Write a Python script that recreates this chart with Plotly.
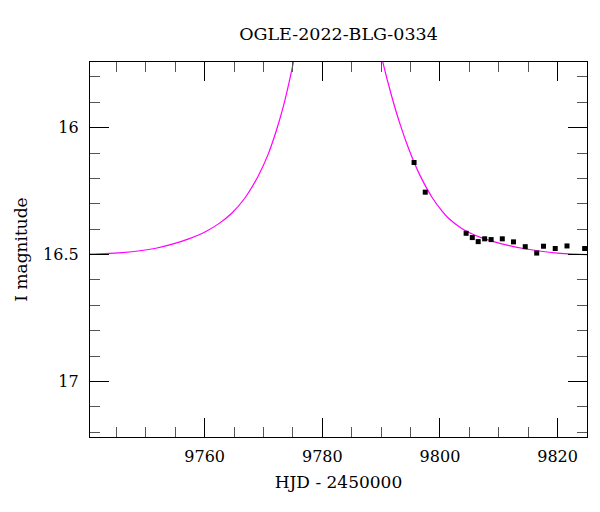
import plotly.graph_objects as go

# Model curve (two branches; the peak is off the top of the plot)
model_left_hjd = [9740.5, 9743.0, 9746.0, 9749.0, 9751.7, 9754.5, 9757.4, 9760.2, 9762.4, 9764.6,
                  9766.9, 9769.1, 9770.8, 9772.2, 9773.35, 9774.3, 9775.05, 9775.5]
model_left_mag = [16.498, 16.496, 16.492, 16.485, 16.475, 16.459, 16.437, 16.409, 16.378, 16.337,
                  16.275, 16.190, 16.104, 16.010, 15.918, 15.826, 15.745, 15.695]
model_right_hjd = [9789.85, 9790.25, 9791.7, 9793.2, 9794.75, 9796.44, 9798.7, 9800.3, 9801.5,
                   9803.7, 9805.4, 9807.1, 9809.3, 9811.6, 9814.4, 9817.2, 9820.0, 9822.9, 9825.0]
model_right_mag = [15.695, 15.738, 15.868, 15.985, 16.087, 16.180, 16.276, 16.327, 16.358,
                   16.397, 16.418, 16.434, 16.450, 16.464, 16.477, 16.487, 16.494, 16.498, 16.500]

# Photometric data points
obs_hjd = [9795.6, 9797.5, 9804.45, 9805.5, 9806.5, 9807.6, 9808.7, 9810.6, 9812.5, 9814.5, 9816.45, 9817.6, 9819.6, 9821.6, 9824.6]
obs_mag = [16.137, 16.254, 16.416, 16.433, 16.449, 16.438, 16.441, 16.438, 16.450, 16.469, 16.494, 16.467, 16.476, 16.466, 16.476]
obs_err = [0.006] * len(obs_hjd)

title_text = "OGLE-2022-BLG-0334"
x_title = "HJD - 2450000"
y_title = "I magnitude"

FONT = "DejaVu Serif"

fig = go.Figure()
fig.add_trace(go.Scatter(
    x=model_left_hjd + [None] + model_right_hjd,
    y=model_left_mag + [None] + model_right_mag,
    mode="lines", line=dict(color="#ff00ff", width=1.2, shape="spline", smoothing=1.0),
    connectgaps=False, hoverinfo="skip", showlegend=False))
fig.add_trace(go.Scatter(
    x=obs_hjd, y=obs_mag, mode="markers",
    marker=dict(symbol="square", size=5, color="black"),
    error_y=dict(type="data", array=obs_err, color="black", thickness=1, width=1.5),
    showlegend=False))

axis_common = dict(
    showgrid=False, zeroline=False, showline=True, linecolor="black", linewidth=1.3,
    mirror="allticks", ticks="inside", ticklen=19, tickwidth=1.2, tickcolor="black",
    tickfont=dict(family=FONT, size=16, color="black"),
)

fig.update_xaxes(
    range=[9740.5, 9825.0], dtick=20, tick0=9760, tickformat="d",
    minor=dict(dtick=5, tick0=9760, ticks="inside", ticklen=10, tickwidth=1.2, tickcolor="#555555"),
    title=dict(text=x_title, font=dict(family=FONT, size=17, color="black"), standoff=10),
    ticklabelstandoff=5,
    **axis_common)
fig.update_yaxes(
    range=[17.219, 15.741], tickvals=[16, 16.5, 17], ticktext=["16", "16.5", "17"],
    minor=dict(dtick=0.1, tick0=16, ticks="inside", ticklen=10, tickwidth=1.2, tickcolor="#555555"),
    title=dict(text=y_title, font=dict(family=FONT, size=17, color="black"), standoff=11),
    ticklabelstandoff=7,
    **axis_common)

# page body has an 8px default margin, so the figure is sized to fit the window
W, H, OFF = 592, 504, 8
fig.update_layout(
    width=W, height=H,
    margin=dict(l=87 - OFF, r=13, t=62 - OFF, b=75, pad=0),
    paper_bgcolor="white", plot_bgcolor="white",
    title=dict(text=title_text, x=0.5, xref="paper", y=1 - (34 - OFF) / H, yref="container",
               yanchor="middle", xanchor="center",
               font=dict(family=FONT, size=17.5, color="black")),
)

fig.write_html("out.html")
